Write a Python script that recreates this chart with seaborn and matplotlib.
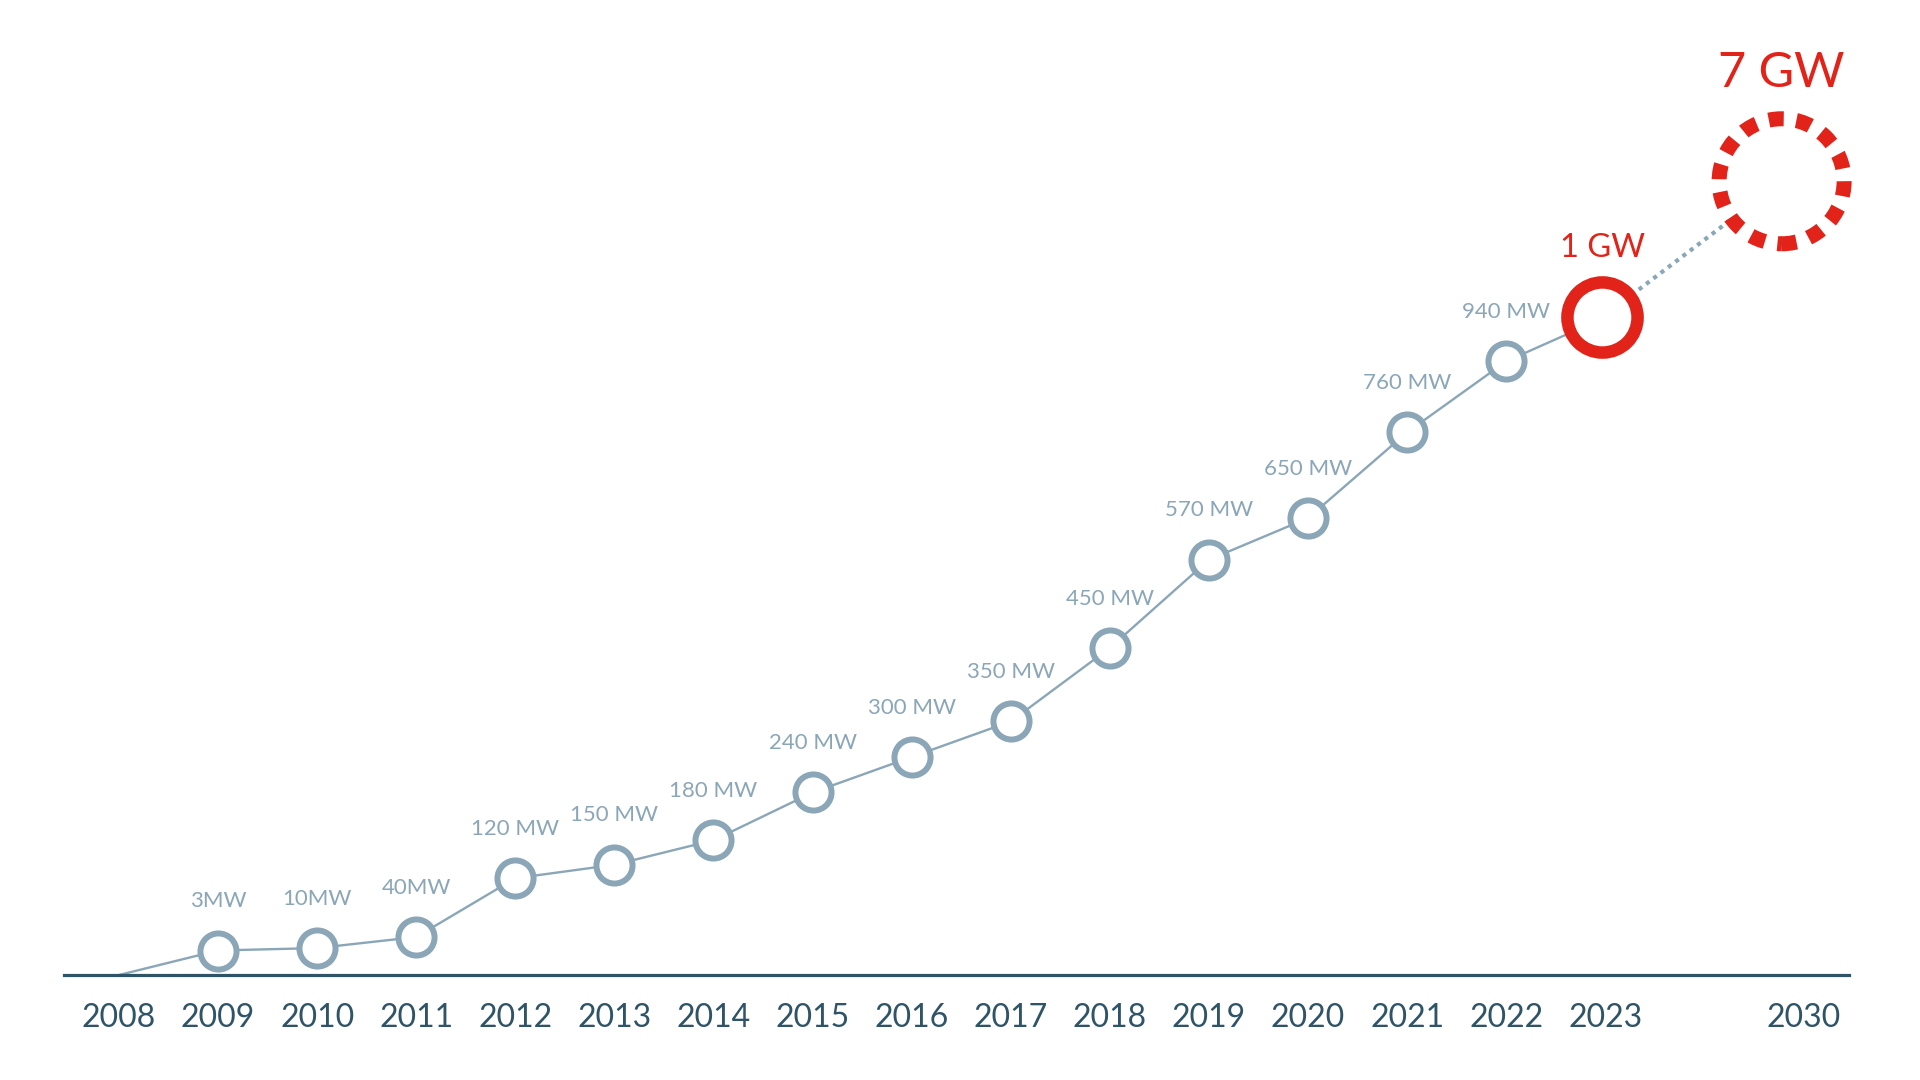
import numpy as np
import matplotlib
matplotlib.use("Agg")
import matplotlib.pyplot as plt
import seaborn as sns

# Jahre und Kurvenhöhe (Baseline = 0)
years = ['2008', '2009', '2010', '2011', '2012', '2013', '2014', '2015', '2016',
         '2017', '2018', '2019', '2020', '2021', '2022', '2023', '2030']
tick_pos = [0, 1, 2, 3, 4, 5, 6, 7, 8, 9, 10, 11, 12, 13, 14, 15, 17]

line_x = [0, 1, 2, 3, 4, 5, 6, 7, 8, 9, 10, 11, 12, 13, 14, 15]
line_h = [0, 20, 22, 31, 79, 90, 110, 149, 178, 207, 267, 339, 373, 443, 501, 537]

mw_labels = ['3MW', '10MW', '40MW', '120 MW', '150 MW', '180 MW', '240 MW', '300 MW',
             '350 MW', '450 MW', '570 MW', '650 MW', '760 MW', '940 MW']

gw_x = [14.97, 16.78]
gw_h = [537, 648]
gw_labels = ['1 GW', '7 GW']

grey = '#8AA6B7'
dark = '#2F5468'
red = '#E2231A'

sns.set_theme(style='white')
plt.rcParams['font.family'] = ['Lato', 'DejaVu Sans']

fig = plt.figure(figsize=(19.2, 10.8), dpi=100)
ax = fig.add_axes([64 / 1920, 105 / 1080, (1849 - 64) / 1920, 975 / 1080])
ax.set_xlim(-0.555, 17.46)
ax.set_ylim(0, 796)

# graue Linie
sns.lineplot(x=line_x, y=line_h, color=grey, linewidth=1.7, ax=ax, zorder=2)
# gepunktete Verbindung zur Prognose
ax.plot(gw_x, gw_h, color=grey, linewidth=3, linestyle=(0, (1, 1.2)), zorder=2)

# graue Kreise
sns.scatterplot(x=line_x[1:-1], y=line_h[1:-1], s=26 ** 2, facecolor='white',
                edgecolor=grey, linewidth=4.3, ax=ax, zorder=3, clip_on=False)
# 1 GW
ax.scatter(gw_x[:1], gw_h[:1], s=50.5 ** 2, facecolor='white', edgecolor=red,
           linewidth=9, zorder=4, clip_on=False)
# 7 GW gestrichelt
ax.scatter(gw_x[1:], gw_h[1:], s=90 ** 2, facecolor='white', edgecolor=red,
           linewidth=10.8, linestyle=(0, (1.0, 0.85)), zorder=4, clip_on=False)

for xv, hv, lab in zip(line_x[1:-1], line_h[1:-1], mw_labels):
    ax.annotate(lab, (xv, hv), xytext=(0, 35.5), textcoords='offset points',
                ha='center', va='center', fontsize=16, color=grey)

ax.annotate(gw_labels[0], (gw_x[0], gw_h[0]), xytext=(0, 50), textcoords='offset points',
            ha='center', va='center', fontsize=23.5, color=red)
ax.annotate(gw_labels[1], (gw_x[1], gw_h[1]), xytext=(0, 78), textcoords='offset points',
            ha='center', va='center', fontsize=35, color=red)

for s in ['top', 'right', 'left']:
    ax.spines[s].set_visible(False)
ax.spines['bottom'].set_color(dark)
ax.spines['bottom'].set_linewidth(2.3)
ax.set_yticks([])
ax.set_xticks(tick_pos)
ax.set_xticklabels(years, fontsize=23, color=dark)
ax.tick_params(axis='x', length=0, pad=20.5)

fig.savefig('out.png', dpi=100, facecolor='white')
